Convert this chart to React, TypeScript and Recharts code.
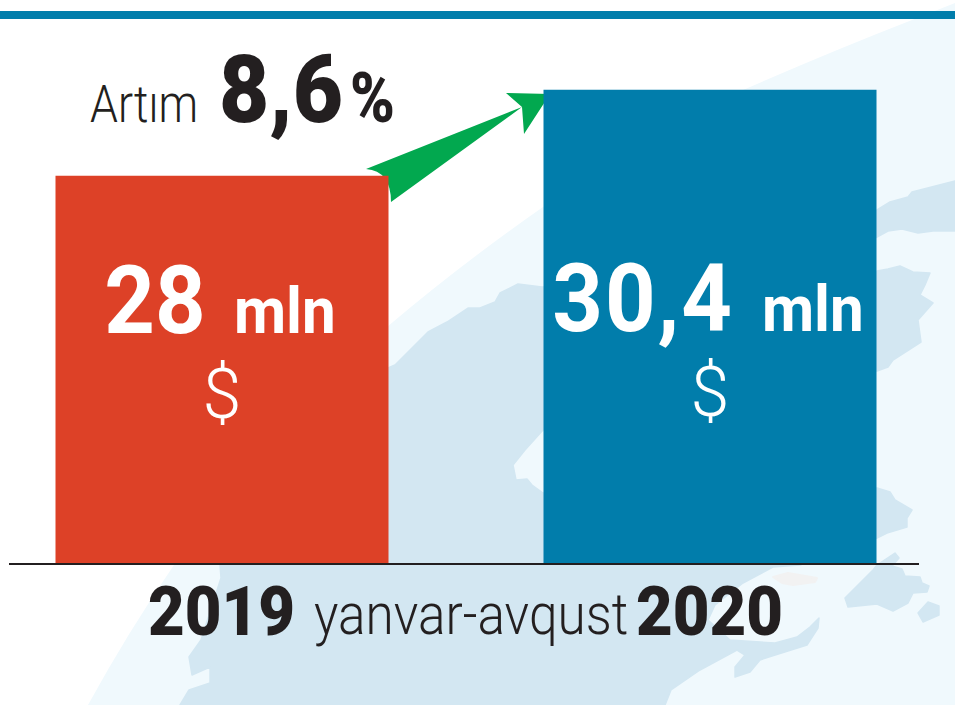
import { Bar, BarChart, Cell, Customized, LabelList, XAxis, YAxis } from "recharts";

const YEARS = ["2019", "2020"];
const VALUES = [28, 30.4];
const VALUE_LABELS = ["28", "30,4"];
const BAR_COLORS = ["#dd4127", "#017dab"];
const UNIT = "mln";
const CURRENCY = "$";
const PERIOD = "yanvar-avqust";
const GROWTH_WORD = "Artım";
const GROWTH_VALUE = "8,6";
const GROWTH_SIGN = "%";

const data = YEARS.map((year, i) => ({ year, value: VALUES[i], label: VALUE_LABELS[i] }));

const INK = "#231f20";
const SEA = "#f0f9fd";
const LAND = "#d3e7f2";
const FONT = "Roboto, sans-serif";

const GLOBE = "M88,705 Q128,632 174,565 Q270,435 387,327 Q460,265 543,207 Q640,145 743,90 Q830,52 912,20 L955,3 L955,705 Z";
const MAINLAND =
  "180,705 189,690 210,683 210,667 192,675 189,657 201,640 221,578 220,565 300,450 388,368 395,365 428,332 447,322 468,308 480,308 495,302 500,293 518,284 542,287 700,280 877,271 888,269 900,266 913,272 930,273 925,285 920,295 933,303 918,320 921,342 893,360 888,367 877,371 700,400 543,430 525,450 513,465 516,480 527,479 532,485 543,493 700,490 877,488 890,492 895,500 912,510 907,518 907,527 887,533 877,538 800,565 773,567 743,583 715,605 708,620 730,640 775,643 797,637 810,627 819,618 818,628 807,645 772,656 760,660 750,672 735,677 735,667 745,655 737,650 700,670 671,690 665,705";
const NORTH_BAND =
  "870,212 877,210 890,202 908,197 912,192 955,181 955,231 933,231 918,233 902,229 888,231 877,237 870,240";
const EAST_ISLAND =
  "845,598 873,570 877,565 895,553 899,558 892,566 902,569 905,576 920,577 922,583 929,586 927,592 913,593 908,603 893,611 877,604 848,607";
const SMALL_ISLAND = "918,613 928,602 939,606 939,615 923,622";
const LAKE = "773,577 788,573 817,578 815,582 793,585 782,583";
const ARROW =
  "M366,169 Q391,171 391,202 L522,107 L524,134 L550,94 L506,93 L522,107 Z";

function Backdrop() {
  return (
    <svg width={955} height={705} style={{ position: "absolute", left: 0, top: 0 }}>
      <rect width={955} height={705} fill="#ffffff" />
      <path d={GLOBE} fill={SEA} />
      {[MAINLAND, NORTH_BAND, EAST_ISLAND, SMALL_ISLAND].map((points, i) => (
        <polygon key={i} points={points} fill={LAND} stroke={LAND} strokeWidth={1.5} strokeLinejoin="round" />
      ))}
      <polygon points={LAKE} fill="#f2f2f2" stroke="#f2f2f2" strokeWidth={2} strokeLinejoin="round" />
      <rect x={0} y={11} width={955} height={8} fill="#017dab" />
    </svg>
  );
}

function YearTick({ x, payload }: any) {
  return (
    <text
      x={x}
      y={635}
      textAnchor="middle"
      fontFamily={FONT}
      fontSize={68}
      fontWeight={900}
      fill={INK}
      textLength={147}
      lengthAdjust="spacingAndGlyphs"
    >
      {payload.value}
    </text>
  );
}

function BarLabel({ x, y, width, height, value, index }: any) {
  const cx = x + width / 2;
  const bottom = y + height;
  const shift = index === 0 ? 0 : -2;
  return (
    <g fill="#ffffff" fontFamily={FONT}>
      <g transform={`translate(${cx - 2},${bottom - 231 + shift}) scale(0.94,1)`}>
        <text textAnchor="middle">
          <tspan fontSize={94} fontWeight={700} letterSpacing={value.length > 2 ? 2 : 0}>
            {value}
          </tspan>
          <tspan fontSize={64} fontWeight={700} dx={30}>
            {UNIT}
          </tspan>
        </text>
      </g>
      <text x={cx} y={bottom - 146 + shift} textAnchor="middle" fontSize={70} fontWeight={300}>
        {CURRENCY}
      </text>
    </g>
  );
}

function Annotations() {
  return (
    <g fontFamily={FONT} fill={INK}>
      <text x={90} y={122} fontSize={51} fontWeight={300} textLength={108} lengthAdjust="spacingAndGlyphs">
        {GROWTH_WORD}
      </text>
      <text x={219} y={122} fontSize={95} fontWeight={900} textLength={124} lengthAdjust="spacingAndGlyphs">
        {GROWTH_VALUE}
      </text>
      <text x={350} y={122} fontSize={70} fontWeight={900} textLength={45} lengthAdjust="spacingAndGlyphs">
        {GROWTH_SIGN}
      </text>
      <g transform="translate(314,634) scale(0.9,1)">
        <text x={0} y={0} fontSize={57} fontWeight={300}>
          {PERIOD}
        </text>
      </g>
      <path d={ARROW} fill="#02a84f" />
    </g>
  );
}

export default function App() {
  return (
    <div style={{ position: "absolute", left: 0, top: 0, width: 955, height: 705, overflow: "hidden" }}>
      <Backdrop />
      <div style={{ position: "absolute", left: 0, top: 0 }}>
        <BarChart
          width={955}
          height={705}
          data={data}
          margin={{ top: 30, right: 36, bottom: 61, left: 9 }}
          barSize={333}
        >
          <YAxis hide domain={[17.17, 32.07]} allowDataOverflow />
          <XAxis
            dataKey="year"
            height={80}
            padding={{ left: -31.5, right: -34.5 }}
            axisLine={{ stroke: INK, strokeWidth: 2 }}
            tickLine={false}
            tick={<YearTick />}
            interval={0}
          />
          <Bar dataKey="value" isAnimationActive={false}>
            {data.map((d, i) => (
              <Cell key={d.year} fill={BAR_COLORS[i]} />
            ))}
            <LabelList dataKey="label" content={<BarLabel />} />
          </Bar>
          <Customized component={<Annotations />} />
        </BarChart>
      </div>
    </div>
  );
}
